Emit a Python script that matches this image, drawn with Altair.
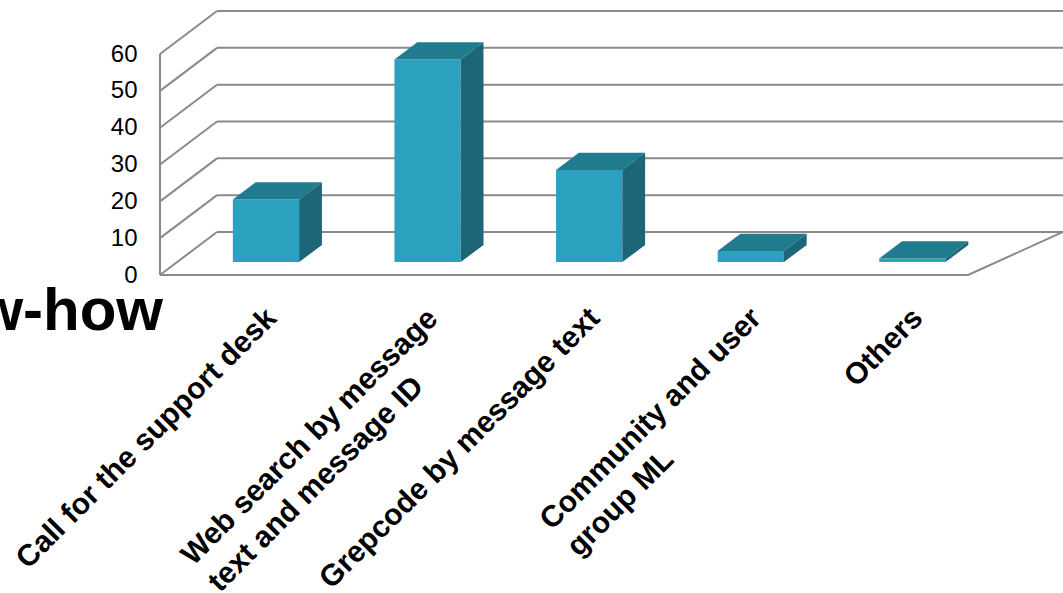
import altair as alt
import pandas as pd

# ---------------- data ----------------
categories = [
    "Call for the support desk",
    "Web search by message\ntext and message ID",
    "Grepcode by message text",
    "Community and user\ngroup ML",
    "Others",
]
values = [17, 55, 25, 3, 1]
y_ticks = [0, 10, 20, 30, 40, 50, 60]
title_fragment = ["w-how"]

# ---------------- geometry / style constants ----------------
PLOT_W, PLOT_H = 903, 263
PX_PER_CAT = 161.6          # pixels per category on the front plane
PX_PER_UNIT = 3.683         # pixels per value unit on the front plane
X_MAX = PLOT_W / PX_PER_CAT
Y_MAX = PLOT_H / PX_PER_UNIT
DX = 57 / PX_PER_CAT        # depth offset (x) of the back wall
DY = 43 / PX_PER_UNIT       # depth offset (y) of the back wall
N = len(categories)
BAR_W = 0.41
BAR_FRONT = 0.30            # fraction of depth where bar front face sits
BAR_DEPTH = 0.40            # fraction of depth that bar occupies
BAR_SHIFT = 0.05
FRONT_C, TOP_C, SIDE_C = "#2BA1BF", "#207B8E", "#1C6678"
GRID_C = "#8A8A8A"
LABEL_FONT = 30
LABEL_END_PX = (12, 320)    # label end offset from bar centre (px), baseline y (px)

AW = {' ': 278, 'a': 556, 'b': 611, 'c': 556, 'd': 611, 'e': 556, 'f': 333, 'g': 611,
      'h': 611, 'i': 278, 'k': 556, 'l': 278, 'm': 889, 'n': 611, 'o': 611, 'p': 611,
      'r': 389, 's': 556, 't': 333, 'u': 611, 'x': 556, 'y': 556, 'C': 722, 'D': 722,
      'G': 778, 'I': 278, 'L': 611, 'M': 833, 'O': 778, 'W': 944}

def text_w(s):
    return sum(AW.get(ch, 556) for ch in s) / 1000.0

xs = alt.Scale(domain=[0, X_MAX], nice=False, zero=False)
ys = alt.Scale(domain=[0, Y_MAX], nice=False, zero=False)
y_axis = alt.Axis(values=y_ticks, domain=False, ticks=False, grid=False, title=None,
                  labelFontSize=24, labelFont="Liberation Sans", labelColor="black",
                  labelPadding=23)

def X(f):
    return alt.X(f, scale=xs, axis=None)

def Y(f):
    return alt.Y(f, scale=ys, axis=y_axis)

# ---------------- frame (grid walls) ----------------
rules = []
for v in y_ticks:
    rules.append(dict(x=0, y=v, x2=DX, y2=v + DY))
    rules.append(dict(x=DX, y=v + DY, x2=X_MAX, y2=v + DY))
rules.append(dict(x=0, y=0, x2=0, y2=y_ticks[-1]))
rules.append(dict(x=0, y=0, x2=N, y2=0))
rules.append(dict(x=N, y=0, x2=X_MAX, y2=DY))
rules_df = pd.DataFrame(rules)

grid = alt.Chart(rules_df).mark_rule(color=GRID_C, strokeWidth=2).encode(
    x=X("x:Q"), x2="x2:Q", y=Y("y:Q"), y2="y2:Q",
)

# ---------------- bars ----------------
front_rows, top_rows, side_rows, label_rows = [], [], [], []
for i, (c, v) in enumerate(zip(categories, values)):
    cx = i + 0.5 + BAR_FRONT * DX + BAR_SHIFT
    x0, x1 = cx - BAR_W / 2, cx + BAR_W / 2
    yb = BAR_FRONT * DY
    yt = yb + v
    bdx, bdy = BAR_DEPTH * DX, BAR_DEPTH * DY
    front_rows.append(dict(cat=c, x=x0, x2=x1, y=yb, y2=yt))
    top_rows.append(dict(cat=c, y=yt, x=x0, x2=x1))
    top_rows.append(dict(cat=c, y=yt + bdy, x=x0 + bdx, x2=x1 + bdx))
    side_rows.append(dict(cat=c, x=x1, y=yb, y2=yt))
    side_rows.append(dict(cat=c, x=x1 + bdx, y=yb + bdy, y2=yt + bdy))
    # label: left-aligned lines, first line ends near the bar centre
    first = c.split("\n")[0]
    wpx = text_w(first) * LABEL_FONT
    ex_px = cx * PX_PER_CAT + LABEL_END_PX[0]
    ey_px = LABEL_END_PX[1] - 12 - PLOT_H   # px below the zero line
    sx_px = ex_px - wpx * 0.7071
    sy_px = ey_px + wpx * 0.7071
    label_rows.append(dict(cat=c, x=sx_px / PX_PER_CAT, y=-sy_px / PX_PER_UNIT))

front = alt.Chart(pd.DataFrame(front_rows)).mark_rect(color=FRONT_C).encode(
    x=X("x:Q"), x2="x2:Q", y=Y("y:Q"), y2="y2:Q",
)
top = alt.Chart(pd.DataFrame(top_rows)).mark_area(color=TOP_C, orient="horizontal").encode(
    y=Y("y:Q"), x=X("x:Q"), x2="x2:Q", detail="cat:N",
)
side = alt.Chart(pd.DataFrame(side_rows)).mark_area(color=SIDE_C, orient="vertical").encode(
    x=X("x:Q"), y=Y("y:Q"), y2="y2:Q", detail="cat:N",
)

labels = alt.Chart(pd.DataFrame(label_rows)).mark_text(
    align="left", baseline="alphabetic", angle=315, fontSize=LABEL_FONT,
    font="Liberation Sans", fontWeight="bold", color="black", lineBreak="\n",
    lineHeight=38,
).encode(
    x=X("x:Q"), y=Y("y:Q"), text="cat:N",
)

title_txt = alt.Chart(pd.DataFrame({"t": title_fragment})).mark_text(
    align="right", baseline="alphabetic", fontSize=60, fontWeight="bold",
    font="Liberation Sans", color="black",
).encode(x=alt.value(3), y=alt.value(318), text="t:N")

chart = alt.layer(grid, front, top, side, labels, title_txt).properties(
    width=PLOT_W, height=PLOT_H,
    autosize=alt.AutoSizeParams(type="none"),
    padding={"left": 160, "top": 12, "right": 0, "bottom": 318},
    background="white",
).configure_view(stroke=None)

chart.save("out.html", embed_options={"renderer": "svg", "actions": False})
